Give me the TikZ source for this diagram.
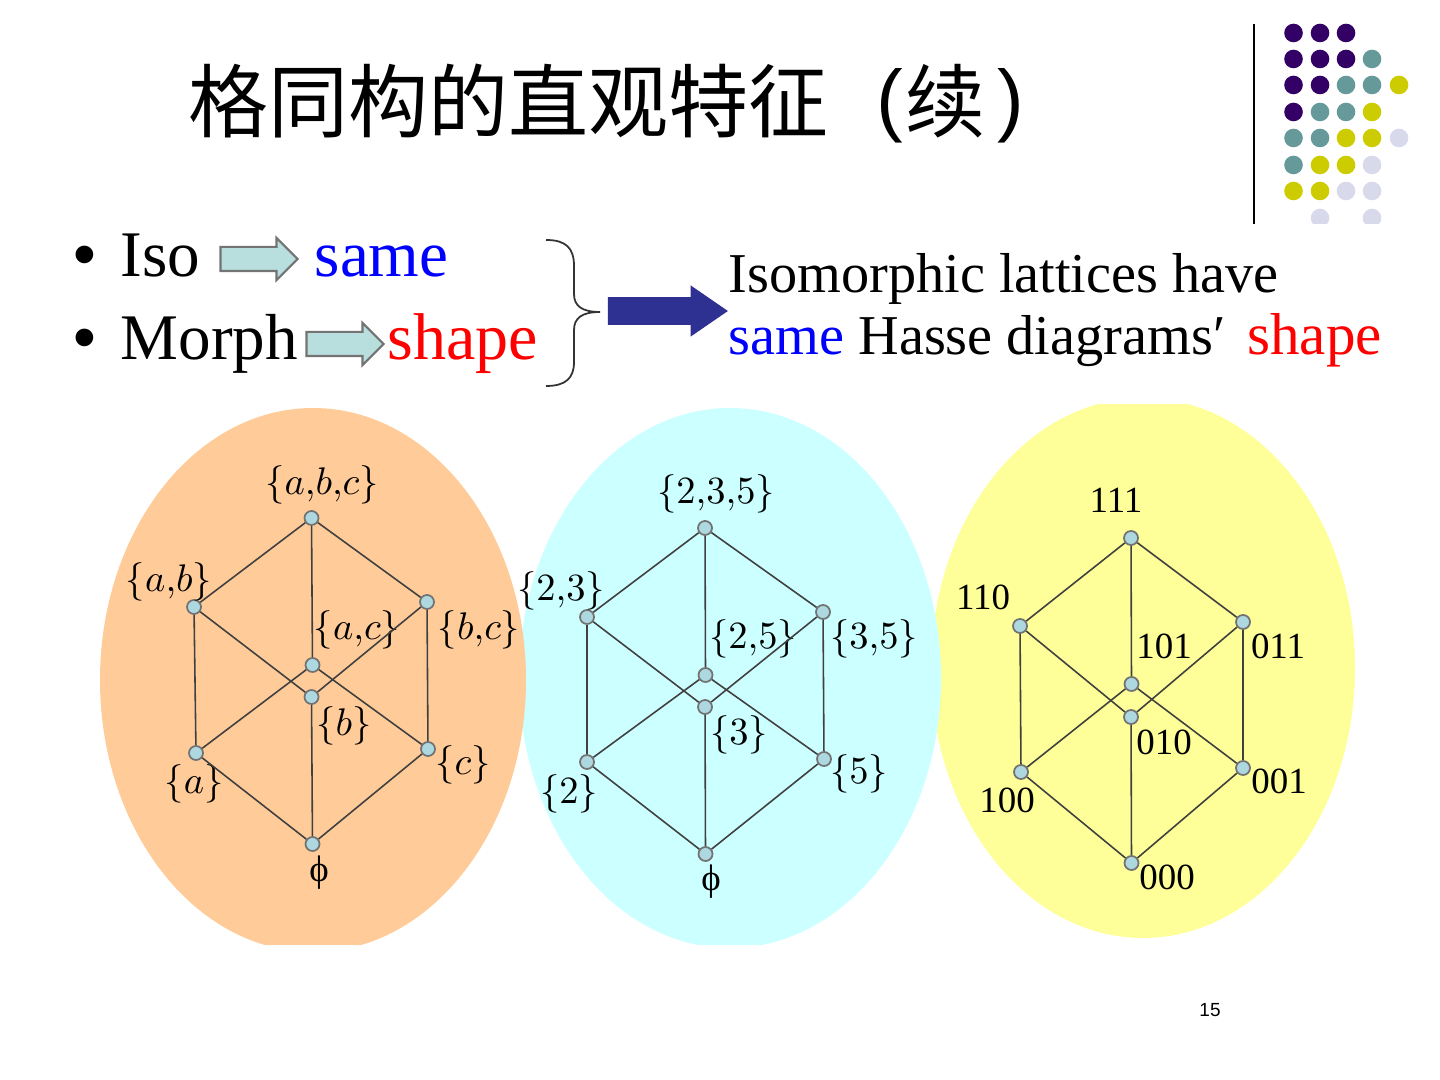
\documentclass[tikz,border=0pt]{standalone}
\usepackage{fontspec}
\usepackage{amsmath}
\setmainfont{Liberation Serif}
\newfontfamily\cjk{Noto Sans CJK SC}
\newfontfamily\arial{Liberation Sans}
\usetikzlibrary{positioning, shapes.arrows}
\definecolor{dotpurple}{HTML}{330066}
\definecolor{dotteal}{HTML}{669999}
\definecolor{dotyellow}{HTML}{CCCC00}
\definecolor{dotlilac}{HTML}{D9D9EC}
\definecolor{vertexblue}{HTML}{ADD8E0}
\definecolor{arrowteal}{HTML}{B8DEDE}
\definecolor{arrownavy}{HTML}{2E3192}
\tikzset{
    vertex/.style={circle, draw=black!55, fill=vertexblue, line width=0.5pt, minimum size=0.14cm, inner sep=0pt},
    edge/.style={draw=black!75, line width=0.45pt},
    setlabel/.style={inner sep=0pt, font=\fontsize{10.5}{12}\selectfont},
    mathlabel/.style={setlabel, yshift=-0.02cm},
    blockarrow/.style={single arrow, draw=black!55, fill=arrowteal, line width=0.6pt, minimum height=0.77cm, inner xsep=0pt, inner ysep=0.11cm, single arrow head extend=0.09cm},
    bigtext/.style={anchor=base west, inner sep=0pt, font=\fontsize{18.5}{22}\selectfont},
    midtext/.style={anchor=base west, inner sep=0pt, font=\fontsize{16}{20}\selectfont}
}

\begin{document}
\begin{tikzpicture}[x=0.01cm, y=-0.01cm]
    \useasboundingbox (0,0) rectangle (1440,1080);
    \node (title) at (188,132) [anchor=base west, inner sep=0pt, font=\cjk\fontsize{22.76}{26}\selectfont] {格同构的直观特征\hspace{0.47cm}\raisebox{0.05cm}{\arial(}\hspace{0.03cm}续\hspace{0.12cm}\raisebox{0.05cm}{\arial)}};
    \node (pagenum) at (1210,1010) [inner sep=0pt, font=\arial\fontsize{5.4}{7}\selectfont] {15};
    % Corner decoration
    \draw [line width=0.6pt] (1254,24) -- (1254,224);
    \begin{scope}
        \clip (1270,24) rectangle (1420,224);
        \foreach \xpos/\ypos/\dotcolor in {
            1293.5/33/dotpurple, 1320/33/dotpurple, 1346/33/dotpurple,
            1293.5/59/dotpurple, 1320/59/dotpurple, 1346/59/dotpurple, 1372/59/dotteal,
            1293.5/85/dotpurple, 1320/85/dotpurple, 1346/85/dotteal, 1372/85/dotteal, 1399/85/dotyellow,
            1293.5/112/dotpurple, 1320/112/dotteal, 1346/112/dotteal, 1372/112/dotyellow,
            1293.5/138/dotteal, 1320/138/dotteal, 1346/138/dotyellow, 1372/138/dotyellow, 1399/138/dotlilac,
            1293.5/165/dotteal, 1320/165/dotyellow, 1346/165/dotyellow, 1372/165/dotlilac,
            1293.5/191/dotyellow, 1320/191/dotyellow, 1346/191/dotlilac, 1372/191/dotlilac,
            1320/218/dotlilac, 1372/218/dotlilac}
            \fill [\dotcolor] (\xpos,\ypos) circle (9.3);
    \end{scope}
    % Top row
    \node (bulletA) at (85,277) [bigtext, anchor=base] {\arial •};
    \node (bulletB) at (85,360) [bigtext, anchor=base] {\arial •};
    \node (iso) at (120,277) [bigtext] {Iso};
    \node (morph) at (120,360) [bigtext] {Morph};
    \node (same) at (314,277) [bigtext, text=blue] {same};
    \node (shape) at (387,360) [bigtext, text=red, font=\fontsize{18.8}{22}\selectfont] {shape};
    \node (arrowA) at (253,259) [blockarrow] {};
    \node (arrowB) at (339,344) [blockarrow] {};
    \draw [line width=0.5pt, black!80] (546,240) .. controls (566,240) and (574,248) .. (574,266) -- (574,294) .. controls (574,306) and (582,312) .. (600,312) .. controls (582,312) and (574,318) .. (574,330) -- (574,362) .. controls (574,378) and (566,386) .. (546,386);
    \node (arrowC) at (658,311) [single arrow, fill=arrownavy, draw=arrownavy, minimum height=1.18cm, inner xsep=0pt, inner ysep=0.125cm, single arrow head extend=0.11cm, single arrow tip angle=69] {};
    \node (lineA) at (728,293) [midtext] {Isomorphic lattices have};
    \node (lineB) at (728,355) [midtext] {\textcolor{blue}{same} Hasse diagrams′\hspace{0.08cm} \textcolor{red}{\fontsize{16.8}{20}\selectfont shape}};
    % Ovals
    \begin{scope}
        \clip (0,405) rectangle (1440,944);
        \fill [fill={rgb,255:red,255;green,255;blue,153}] (1143,668) ellipse [x radius=212, y radius=270];
        \fill [fill={rgb,255:red,204;green,255;blue,255}] (730,678) ellipse [x radius=211, y radius=270];
        \fill [fill={rgb,255:red,255;green,204;blue,153}] (313,680) ellipse [x radius=213, y radius=272];
    \end{scope}
    % Set lattice
    \node (topA) at (311.5,518) [vertex] {};
    \node (abA) at (194,607) [vertex] {};
    \node (bcA) at (427,602) [vertex] {};
    \node (acA) at (312.5,665) [vertex] {};
    \node (bA) at (311.5,697) [vertex] {};
    \node (aA) at (196,753) [vertex] {};
    \node (cA) at (428,749) [vertex] {};
    \node (botA) at (312.5,844) [vertex] {};
    \node at (322,483) [mathlabel] {$\{a{,}b{,}c\}$};
    \node at (169,580) [mathlabel] {$\{a{,}b\}$};
    \node at (357,628) [mathlabel] {$\{a{,}c\}$};
    \node at (479,628) [mathlabel] {$\{b{,}c\}$};
    \node at (344,724) [mathlabel] {$\{b\}$};
    \node at (194,782) [mathlabel] {$\{a\}$};
    \node at (463,763) [mathlabel] {$\{c\}$};
    \node at (319,871) [mathlabel] {ϕ};
    % Divisor lattice
    \node (topB) at (705,528) [vertex] {};
    \node (abB) at (587,617) [vertex] {};
    \node (bcB) at (823,612) [vertex] {};
    \node (acB) at (705.5,675) [vertex] {};
    \node (bB) at (705,707) [vertex] {};
    \node (aB) at (587,762) [vertex] {};
    \node (cB) at (824,759) [vertex] {};
    \node (botB) at (705.5,854) [vertex] {};
    \node at (716,492) [mathlabel] {$\{2{,}3{,}5\}$};
    \node at (561,589) [mathlabel] {$\{2{,}3\}$};
    \node at (753,637) [mathlabel] {$\{2{,}5\}$};
    \node at (874,637) [mathlabel] {$\{3{,}5\}$};
    \node at (739,733) [mathlabel] {$\{3\}$};
    \node at (569,792) [mathlabel] {$\{2\}$};
    \node at (859,772) [mathlabel] {$\{5\}$};
    \node at (711,880) [mathlabel] {ϕ};
    % Bit string lattice
    \node (topC) at (1131,538) [vertex] {};
    \node (abC) at (1020,626) [vertex] {};
    \node (bcC) at (1243,622) [vertex] {};
    \node (acC) at (1131.5,684) [vertex] {};
    \node (bC) at (1131,717) [vertex] {};
    \node (aC) at (1021,772) [vertex] {};
    \node (cC) at (1243,768) [vertex] {};
    \node (botC) at (1131.5,863) [vertex] {};
    \node at (1116,500) [setlabel] {111};
    \node at (983,597) [setlabel] {110};
    \node at (1164,646) [setlabel] {101};
    \node at (1278,646) [setlabel] {011};
    \node at (1164,742) [setlabel] {010};
    \node at (1007,800) [setlabel] {100};
    \node at (1279,781) [setlabel] {001};
    \node at (1167,877) [setlabel] {000};
    % Edges
    \foreach \lat in {A,B,C} {
        \foreach \from/\to in {top/ab, top/bc, top/ac, ab/a, ab/b, bc/c, bc/b, ac/a, ac/c, a/bot, c/bot, b/bot}
            \draw [edge] (\from\lat) -- (\to\lat);
    }
\end{tikzpicture}
\end{document}
